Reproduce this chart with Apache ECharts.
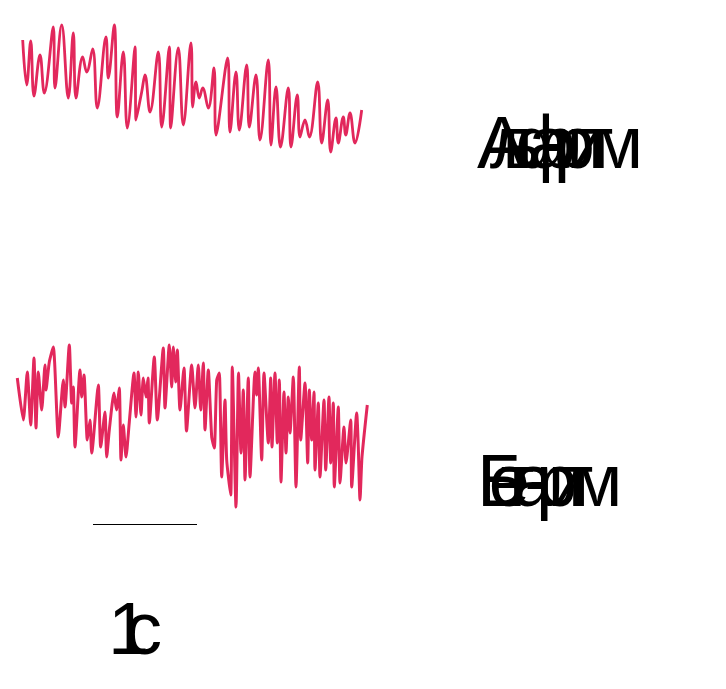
<!DOCTYPE html>
<html><head><meta charset="utf-8">
<script src="https://cdn.jsdelivr.net/npm/echarts@6/dist/echarts.min.js"></script>
<style>html,body{margin:0;padding:0;background:#fff}#c{width:726px;height:689px}</style>
</head><body><div id="c"></div>
<script>
// samples at 104 Hz (104 samples = 1 s), amplitude in µV (arbitrary)
const alphaT = [5.7,9.7,13.7,17,23,27.3,36.3,38,44.7,51.3,56.3,59,65.7,69.7,75.7,80.3,89,91.3,97.3,100.3,106.3,110.3,118,119,124.7,128,133,141.3,144.7,152.3,153.7,161.3,166.3,174,175.7,179,182.3,185.7,191.3,197,199,210.7,213,219,222.3,229.7,232.3,239,243,251.3,254,259,263.5,271.3,274,280.3,283,288,292.3,300.7,304.7,310.7,313.7,319,321.3,326.3,328.7,333,338,344.7];
const alphaV = [50,5,49,-6,35,-3,63,2,65,-8,57,-8,33,18,41,-18,53,12,65,-27,38,-38,43,-30,-2,15,-22,38,-37,43,-38,42,-35,47,-17,8,-8,2,-18,22,-45,32,-42,18,-40,25,-37,15,-50,30,-55,3,-57,2,-57,-5,-47,-30,-47,8,-53,-10,-62,-28,-53,-27,-45,-23,-53,-20];
const betaT = [0.3,6.3,10.3,13.7,17,19,21.3,24.7,28,29,32.3,36.3,41.3,46.3,48,52.3,54.7,56.3,58,63,64.7,67,70.3,73,74.7,81.3,83.7,88,89.7,92.3,97,99.5,102.3,104,106.3,109,112.3,117,119,121.3,124,126.3,129,131,132.3,137.3,140.3,146.3,148,152.3,154.7,156.3,158.7,160.3,163,167,169.5,174.7,178,181.3,183.7,186.3,188,191.3,194.7,197.3,199.7,202.3,204.7,208,209.7,213.7,215.3,219,221.5,224,226.3,228,231.3,233,238,239.7,241.3,244.7,247,251.3,253.7,255,258,260.3,262.3,264,267,269,271.3,273,276.3,279,282.3,283.7,288,290.7,292.3,294.7,297,298,301.3,303,307,308.7,312,313.7,316.3,317.3,321.3,323,327,329,333.7,334.7,339.7,341.3,343,345,350.3];
const betaV = [47,5,53,0,67,-3,53,15,60,35,63,78,-12,45,18,80,22,38,-22,55,28,50,-15,5,-28,40,-22,13,-32,-5,32,15,37,-35,0,-32,3,52,8,53,10,47,28,47,2,68,5,77,17,80,38,78,43,75,15,57,-6,60,17,60,15,62,-5,55,-12,-23,45,52,-52,25,-35,-70,58,-82,52,-28,35,-55,47,-52,53,30,57,-35,52,-18,47,-22,52,-18,45,-57,33,-28,28,-8,48,-62,58,-15,42,-38,35,-15,33,-45,22,-52,25,-45,28,-38,22,-62,18,-58,-2,-38,5,-62,12,-22,-75,-32,20];
const scaleBarT = [76, 180];   // 1 s = 104 samples
const scaleBarV = [-99.5, -99.5];
const labelAlpha = 'Альфа-ритм';
const labelBeta = 'Бета-ритм';
const labelScale = '1с';

const zip = (a, b) => a.map((v, i) => [v, b[i]]);
const red = '#e2285c';
const chart = echarts.init(document.getElementById('c'), null, {renderer: 'canvas'});

function charTexts(str, x0, step, y, size) {
  return Array.from(str).map((ch, i) => ({
    type: 'text', x: x0 + i * step, y: y,
    style: {text: ch, fill: '#000', font: size + 'px "Liberation Sans", Arial, sans-serif', verticalAlign: 'bottom', textVerticalAlign: 'bottom'}
  }));
}

const axX = (g) => ({type: 'value', gridIndex: g, min: 0, max: 364, show: false});
chart.setOption({
  backgroundColor: '#fff',
  animation: false,
  grid: [
    {left: 17, width: 364, top: 20, height: 140},
    {left: 17, width: 364, top: 330, height: 200}
  ],
  xAxis: [axX(0), axX(1)],
  yAxis: [
    {type: 'value', gridIndex: 0, min: -70, max: 70, show: false},
    {type: 'value', gridIndex: 1, min: -105, max: 95, show: false}
  ],
  series: [
    {type: 'line', xAxisIndex: 0, yAxisIndex: 0, data: zip(alphaT, alphaV), showSymbol: false, smooth: 0.4,
     lineStyle: {color: red, width: 2.8}},
    {type: 'line', xAxisIndex: 1, yAxisIndex: 1, data: zip(betaT, betaV), showSymbol: false, smooth: 0.2,
     lineStyle: {color: red, width: 3}},
    {type: 'line', xAxisIndex: 1, yAxisIndex: 1, data: zip(scaleBarT, scaleBarV), showSymbol: false,
     lineStyle: {color: '#000', width: 1}}
  ],
  graphic: [].concat(
    charTexts(labelAlpha, 477, 12.8, 185, 74),
    charTexts(labelBeta, 477, 11.8, 523, 74),
    charTexts(labelScale, 108, 17, 671, 74)
  )
});
</script></body></html>
